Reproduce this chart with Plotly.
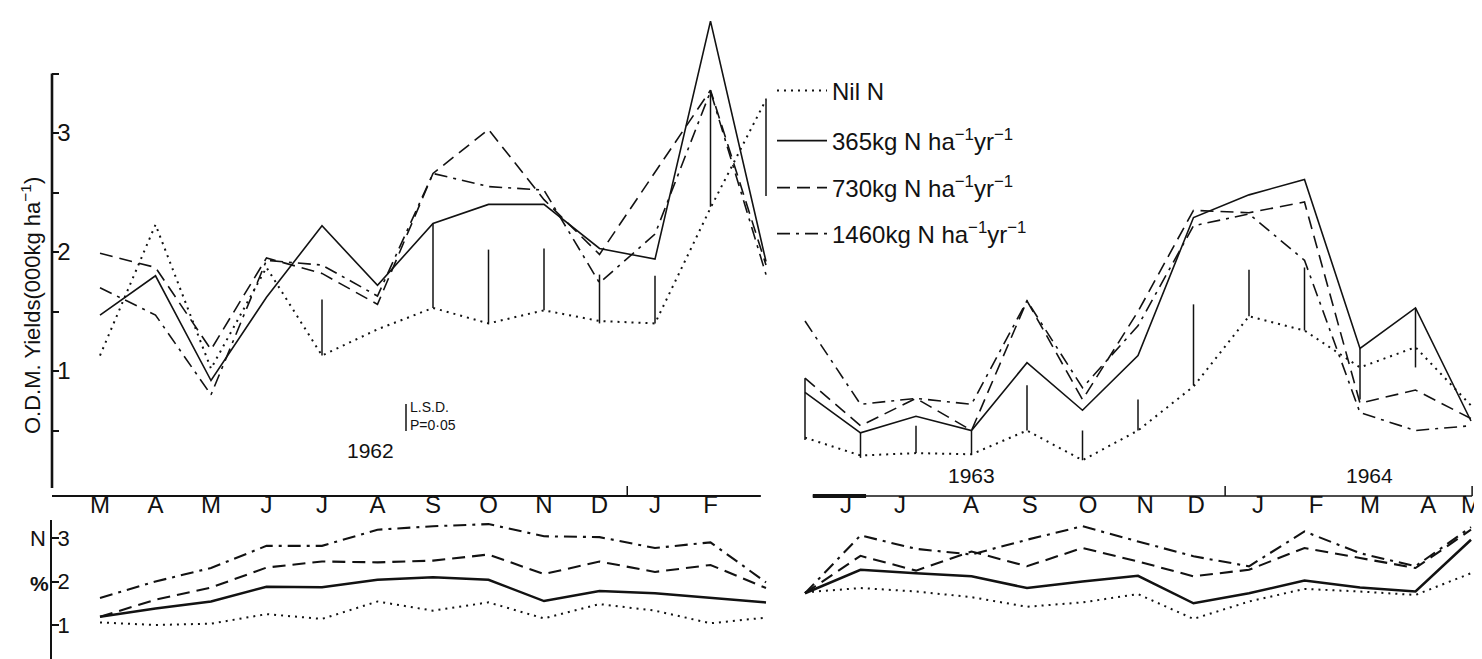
import plotly.graph_objects as go

# ---------------- data ----------------
months_62 = ["M", "A", "M", "J", "J", "A", "S", "O", "N", "D", "J", "F"]
months_63 = ["J", "J", "A", "S", "O", "N", "D", "J", "F", "M", "A", "M"]
x_idx = list(range(13))

series_names = ["Nil N",
                "365kg N ha<sup>−1</sup>yr<sup>−1</sup>",
                "730kg N ha<sup>−1</sup>yr<sup>−1</sup>",
                "1460kg N ha<sup>−1</sup>yr<sup>−1</sup>"]

# O.D.M. yields (000 kg/ha), 1962 panel
yield_nil_62 = [1.13, 2.23, 1.02, 1.87, 1.13, 1.35, 1.53, 1.40, 1.51, 1.42, 1.40, 2.37, 3.28]
yield_365_62 = [1.47, 1.80, 0.92, 1.62, 2.22, 1.72, 2.24, 2.40, 2.40, 2.03, 1.94, 3.94, 1.92]
yield_730_62 = [1.99, 1.87, 1.18, 1.95, 1.82, 1.56, 2.66, 3.03, 2.44, 1.98, 2.67, 3.36, 1.89]
yield_1460_62 = [1.70, 1.47, 0.80, 1.93, 1.89, 1.63, 2.66, 2.55, 2.52, 1.74, 2.15, 3.35, 1.81]

# O.D.M. yields, 1963-64 panel
yield_nil_63 = [0.44, 0.29, 0.31, 0.30, 0.50, 0.25, 0.50, 0.87, 1.46, 1.34, 1.03, 1.20, 0.71]
yield_365_63 = [0.82, 0.48, 0.62, 0.50, 1.07, 0.67, 1.13, 2.29, 2.48, 2.61, 1.19, 1.53, 0.58]
yield_730_63 = [0.94, 0.54, 0.77, 0.50, 1.59, 0.76, 1.50, 2.35, 2.33, 2.42, 0.73, 0.84, 0.60]
yield_1460_63 = [1.42, 0.72, 0.77, 0.72, 1.59, 0.86, 1.38, 2.22, 2.32, 1.93, 0.65, 0.50, 0.54]

# L.S.D. (P=0.05) bars
lsd_x_62 = [4, 6, 7, 8, 9, 10, 11, 12]
lsd_lo_62 = [1.13, 1.53, 1.40, 1.51, 1.40, 1.40, 2.38, 2.47]
lsd_hi_62 = [1.60, 2.24, 2.02, 2.03, 1.81, 1.80, 3.36, 3.29]
lsd_x_63 = [0, 1, 2, 3, 4, 5, 6, 7, 8, 9, 10, 11]
lsd_lo_63 = [0.42, 0.27, 0.31, 0.30, 0.50, 0.25, 0.50, 0.88, 1.46, 1.34, 0.76, 1.03]
lsd_hi_63 = [0.94, 0.48, 0.54, 0.50, 0.88, 0.50, 0.76, 1.56, 1.85, 1.87, 1.19, 1.53]

# N content (%)
pctN_nil_62 = [1.06, 1.00, 1.03, 1.25, 1.14, 1.54, 1.33, 1.52, 1.15, 1.48, 1.33, 1.04, 1.17]
pctN_365_62 = [1.19, 1.38, 1.54, 1.88, 1.87, 2.04, 2.10, 2.04, 1.55, 1.78, 1.73, 1.62, 1.52]
pctN_730_62 = [1.19, 1.58, 1.86, 2.32, 2.46, 2.44, 2.48, 2.62, 2.17, 2.46, 2.22, 2.38, 1.85]
pctN_1460_62 = [1.62, 2.00, 2.31, 2.82, 2.82, 3.19, 3.27, 3.32, 3.04, 3.02, 2.77, 2.90, 1.98]

pctN_nil_63 = [1.75, 1.85, 1.77, 1.64, 1.42, 1.52, 1.71, 1.14, 1.54, 1.83, 1.77, 1.69, 2.19]
pctN_365_63 = [1.73, 2.27, 2.19, 2.12, 1.85, 2.00, 2.13, 1.50, 1.73, 2.02, 1.86, 1.77, 2.96]
pctN_730_63 = [1.73, 2.59, 2.25, 2.69, 2.35, 2.77, 2.46, 2.12, 2.27, 2.77, 2.54, 2.31, 3.19]
pctN_1460_63 = [1.73, 3.06, 2.75, 2.62, 2.96, 3.27, 2.92, 2.58, 2.35, 3.15, 2.65, 2.35, 3.25]

# ---------------- layout helpers ----------------
W, H = 1482, 659
def px(x):
    return x / W
def py(y):
    return 1 - y / H

INK = "#121212"
FONT = "Liberation Sans, Arial, sans-serif"

STEP = 55.5                 # pixels per month
L_X0, L_X1, L_P0 = 44, 760, 92
R_X0, R_X1, R_P0 = 790, 1482, 797
TOP_DOM, TOP_LINE, TOP_V1, TOP_UNIT = 480, 488, 363, 119.0
BOT_TOP, BOT_V1, BOT_UNIT = 512, 617, 43.5

xr_left = [(L_X0 - L_P0) / STEP, (L_X1 - L_P0) / STEP]
xr_right = [(R_X0 - R_P0) / STEP, (R_X1 - R_P0) / STEP]
yr_top = [1 + (TOP_V1 - TOP_DOM) / TOP_UNIT, 1 + TOP_V1 / TOP_UNIT]
yr_bot = [1 + (BOT_V1 - H) / BOT_UNIT, 1 + (BOT_V1 - BOT_TOP) / BOT_UNIT]

# month label positions on the 1963-64 axis (hand lettered, slightly irregular)
tickpos_63 = [0.74, 1.71, 2.99, 4.05, 5.10, 6.13, 7.05, 8.16, 9.21, 10.18, 11.23, 12.0]

styles = [
    dict(dash="2px,5px", width=2.0),
    dict(dash="solid", width=1.6),
    dict(dash="13px,7px", width=1.6),
    dict(dash="13px,6px,3px,6px", width=1.6),
]
bot_widths = [2.0, 2.5, 2.1, 2.1]

fig = go.Figure()

top62 = [yield_nil_62, yield_365_62, yield_730_62, yield_1460_62]
top63 = [yield_nil_63, yield_365_63, yield_730_63, yield_1460_63]
bot62 = [pctN_nil_62, pctN_365_62, pctN_730_62, pctN_1460_62]
bot63 = [pctN_nil_63, pctN_365_63, pctN_730_63, pctN_1460_63]
legend_ids = ["legend", "legend2", "legend3", "legend4"]

for i in range(4):
    fig.add_trace(go.Scatter(x=x_idx, y=top62[i], mode="lines", name=series_names[i],
                             line=dict(color=INK, **styles[i]), legend=legend_ids[i],
                             xaxis="x", yaxis="y", hoverinfo="skip"))
for i in range(4):
    fig.add_trace(go.Scatter(x=x_idx, y=top63[i], mode="lines", showlegend=False,
                             line=dict(color=INK, **styles[i]),
                             xaxis="x2", yaxis="y2", hoverinfo="skip"))
for i in range(4):
    st = dict(styles[i]); st["width"] = bot_widths[i]
    fig.add_trace(go.Scatter(x=x_idx, y=bot62[i], mode="lines", showlegend=False,
                             line=dict(color=INK, **st),
                             xaxis="x3", yaxis="y3", hoverinfo="skip"))
for i in range(4):
    st = dict(styles[i]); st["width"] = bot_widths[i]
    fig.add_trace(go.Scatter(x=x_idx, y=bot63[i], mode="lines", showlegend=False,
                             line=dict(color=INK, **st),
                             xaxis="x4", yaxis="y4", hoverinfo="skip"))

def lsd_trace(xs, lo, hi, xa, ya):
    X, Y = [], []
    for x, a, b in zip(xs, lo, hi):
        X += [x, x, None]
        Y += [a, b, None]
    return go.Scatter(x=X, y=Y, mode="lines", showlegend=False, hoverinfo="skip",
                      line=dict(color=INK, width=1.5), xaxis=xa, yaxis=ya)

fig.add_trace(lsd_trace(lsd_x_62, lsd_lo_62, lsd_hi_62, "x", "y"))
fig.add_trace(lsd_trace(lsd_x_63, lsd_lo_63, lsd_hi_63, "x2", "y2"))

tickfont = dict(family=FONT, size=24, color=INK)

layout = dict(
    width=W, height=H,
    margin=dict(l=0, r=0, t=0, b=0),
    paper_bgcolor="white", plot_bgcolor="rgba(0,0,0,0)",
    font=dict(family=FONT, color=INK),
    xaxis=dict(domain=[px(L_X0), px(L_X1)], range=xr_left, anchor="y",
               showgrid=False, zeroline=False, showline=False,
               tickmode="array", tickvals=list(range(12)), ticktext=months_62,
               ticks="", tickfont=tickfont),
    yaxis=dict(domain=[py(TOP_DOM), 1], range=yr_top, anchor="x",
               showgrid=False, zeroline=False, showline=False,
               tickmode="array", tickvals=[0.5, 1, 1.5, 2, 2.5, 3, 3.5],
               ticktext=["", "1", "", "2", "", "3", ""],
               ticks="inside", ticklen=7, tickwidth=2, tickcolor=INK,
               ticklabelposition="inside", tickfont=tickfont),
    xaxis2=dict(domain=[px(R_X0), px(R_X1)], range=xr_right, anchor="y2",
                showgrid=False, zeroline=False, showline=False,
                tickmode="array", tickvals=tickpos_63, ticktext=months_63,
                ticks="", tickfont=tickfont),
    yaxis2=dict(domain=[py(TOP_DOM), 1], range=yr_top, anchor="x2", visible=False),
    xaxis3=dict(domain=[px(L_X0), px(L_X1)], range=xr_left, anchor="y3", visible=False),
    yaxis3=dict(domain=[0, py(BOT_TOP)], range=yr_bot, anchor="x3",
                showgrid=False, zeroline=False, showline=True, linewidth=2, linecolor=INK,
                tickmode="array", tickvals=[1, 2, 3], ticktext=["1", "2", "3"],
                ticks="inside", ticklen=7, tickwidth=2, tickcolor=INK,
                ticklabelposition="inside", tickfont=dict(family=FONT, size=22, color=INK)),
    xaxis4=dict(domain=[px(R_X0), px(R_X1)], range=xr_right, anchor="y4", visible=False),
    yaxis4=dict(domain=[0, py(BOT_TOP)], range=yr_bot, anchor="x4", visible=False),
)

leg_rows = [83, 133, 180, 226]
for lid, yrow in zip(legend_ids, leg_rows):
    layout[lid] = dict(x=px(764), y=py(yrow), xanchor="left", yanchor="middle",
                       bgcolor="rgba(0,0,0,0)", borderwidth=0, itemwidth=50,
                       font=dict(family=FONT, size=24, color=INK))

fig.update_layout(**layout)

line_y = py(TOP_LINE)
tick_top = py(TOP_LINE - 10)
shapes = []
# top-left y axis line (down to the x axis line)
shapes.append(dict(type="line", xref="x domain", yref="y", x0=0, x1=0,
                   y0=1 + (TOP_V1 - TOP_LINE) / TOP_UNIT, y1=3.5,
                   line=dict(color=INK, width=2.6)))
# left x axis line
shapes.append(dict(type="line", xref="x domain", yref="paper", x0=0, x1=0.99,
                   y0=line_y, y1=line_y, line=dict(color=INK, width=2.2)))
# year boundary tick (1962 | 1963)
shapes.append(dict(type="line", xref="x", yref="paper", x0=9.5, x1=9.5,
                   y0=line_y, y1=tick_top, line=dict(color=INK, width=1.5)))
# right x axis line (thicker start)
shapes.append(dict(type="line", xref="x2", yref="paper", x0=0.14, x1=12.02,
                   y0=line_y, y1=line_y, line=dict(color=INK, width=1.7)))
shapes.append(dict(type="line", xref="x2", yref="paper", x0=0.14, x1=1.1,
                   y0=line_y, y1=line_y, line=dict(color=INK, width=3.8)))
for xv in (7.57, 12.02):
    shapes.append(dict(type="line", xref="x2", yref="paper", x0=xv, x1=xv,
                       y0=line_y, y1=tick_top, line=dict(color=INK, width=1.5)))
# L.S.D. key bracket
shapes.append(dict(type="line", xref="paper", yref="paper", x0=px(398), x1=px(398),
                   y0=py(396), y1=py(423), line=dict(color=INK, width=1.5)))
# faint bottom border lines of the scan
shapes.append(dict(type="line", xref="paper", yref="paper", x0=px(130), x1=px(755),
                   y0=py(656), y1=py(656), line=dict(color="#b8b8b8", width=2)))
shapes.append(dict(type="line", xref="paper", yref="paper", x0=px(800), x1=px(1482),
                   y0=py(656), y1=py(656), line=dict(color="#b8b8b8", width=2)))
fig.update_layout(shapes=shapes)

ann = []
ann.append(dict(text="O.D.M. Yields(000kg ha<sup>−1</sup>)", textangle=-90,
                x=px(23), y=py(298), xref="paper", yref="paper", showarrow=False,
                xanchor="center", yanchor="middle",
                font=dict(family=FONT, size=22, color=INK)))
ann.append(dict(text="N", x=px(30), y=py(530), xref="paper", yref="paper", showarrow=False,
                xanchor="center", yanchor="middle", font=dict(family=FONT, size=22, color=INK)))
ann.append(dict(text="<b>%</b>", x=px(31), y=py(575), xref="paper", yref="paper", showarrow=False,
                xanchor="center", yanchor="middle", font=dict(family=FONT, size=21, color=INK)))
for txt, xx, yy in (("1962", 362, 442), ("1963", 963, 467), ("1964", 1361, 467)):
    ann.append(dict(text=txt, x=px(xx), y=py(yy), xref="paper", yref="paper", showarrow=False,
                    xanchor="center", yanchor="middle", font=dict(family=FONT, size=21, color=INK)))
ann.append(dict(text="L.S.D.<br>P=0·05", x=px(400), y=py(408), xref="paper", yref="paper",
                showarrow=False, xanchor="left", yanchor="middle", align="left",
                font=dict(family=FONT, size=14, color=INK)))
fig.update_layout(annotations=ann)

fig.write_html("out.html")
